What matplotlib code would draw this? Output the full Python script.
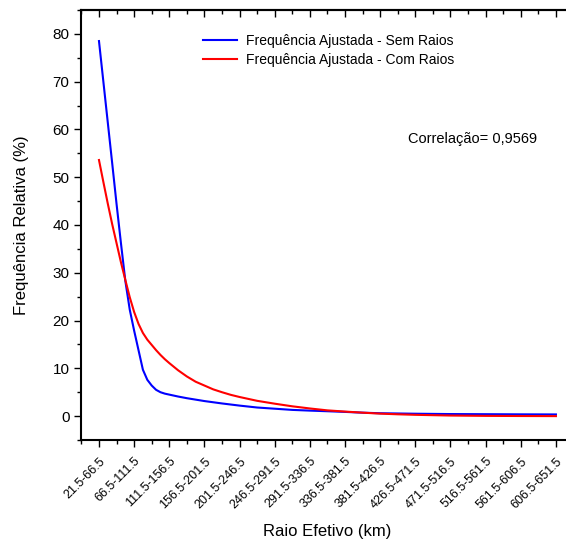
import matplotlib
matplotlib.use("Agg")
import matplotlib.pyplot as plt
from matplotlib.ticker import MultipleLocator

# Categorias do eixo X (classes de raio efetivo)
categorias = ["21.5-66.5", "66.5-111.5", "111.5-156.5", "156.5-201.5",
              "201.5-246.5", "246.5-291.5", "291.5-336.5", "336.5-381.5",
              "381.5-426.5", "426.5-471.5", "471.5-516.5", "516.5-561.5",
              "561.5-606.5", "606.5-651.5"]

# Posicoes (em indice de categoria) onde as curvas ajustadas foram lidas
pos_sem = [0, 0.125, 0.25, 0.375, 0.5, 0.625, 0.75, 0.875, 1.0, 1.125, 1.25,
           1.375, 1.5, 1.625, 1.75, 1.875, 2.0, 2.25, 2.5, 2.75, 3.0, 3.5,
           4.0, 4.5, 5.0, 5.5, 6.0, 6.5, 7.0, 7.5, 8.0, 9.0, 10.0, 11.0,
           12.0, 13.0]

# Frequencia ajustada - sem raios (%)
sem_raios = [78.5, 70.0, 61.5, 53.0, 44.4, 36.2, 28.3, 22.3, 17.9, 13.8, 9.7,
             7.6, 6.4, 5.5, 5.0, 4.7, 4.5, 4.1, 3.75, 3.45, 3.15, 2.65,
             2.2, 1.8, 1.55, 1.3, 1.15, 1.02, 0.88, 0.72, 0.6, 0.5, 0.43, 0.4,
             0.37, 0.35]

pos_com = [0, 0.125, 0.25, 0.375, 0.5, 0.625, 0.75, 0.875, 1.0, 1.125, 1.25,
           1.375, 1.5, 1.625, 1.75, 1.875, 2.0, 2.25, 2.5, 2.75, 3.0, 3.25,
           3.5, 3.75, 4.0, 4.5, 5.0, 5.5, 6.0, 6.5, 7.0, 7.5, 8.0, 8.5, 9.0,
           10.0, 11.0, 12.0, 13.0]

# Frequencia ajustada - com raios (%)
com_raios = [53.6, 49.0, 44.5, 40.2, 36.2, 32.2, 28.5, 24.9, 21.8, 19.3, 17.4,
             16.0, 14.9, 13.8, 12.8, 11.9, 11.1, 9.6, 8.3, 7.2, 6.4, 5.6,
             5.0, 4.45, 4.0, 3.2, 2.6, 2.05, 1.6, 1.2, 0.95, 0.72, 0.52, 0.38, 0.27,
             0.12, 0.05, 0.02, 0.0]

plt.rcParams['font.family'] = ['Liberation Sans', 'DejaVu Sans']

fig = plt.figure(figsize=(5.66, 5.40), dpi=100)
ax = fig.add_axes([81.4 / 566, 100 / 540, 492.1 / 566, 430 / 540])

ax.plot(pos_sem, sem_raios, color='#0000ff', linewidth=1.5,
        label="Frequência Ajustada - Sem Raios")
ax.plot(pos_com, com_raios, color='#ff0000', linewidth=1.5,
        label="Frequência Ajustada - Com Raios")

ax.set_xlim(-0.5, 13.5)
ax.set_ylim(-5, 85)

# Ticks do eixo X
ax.set_xticks(range(len(categorias)))
ax.set_xticklabels(categorias, rotation=45, ha='right', va='top',
                   rotation_mode='anchor', fontsize=9)
ax.xaxis.set_minor_locator(MultipleLocator(0.5))

# Ticks do eixo Y
ax.yaxis.set_major_locator(MultipleLocator(10))
ax.yaxis.set_minor_locator(MultipleLocator(5))

ax.tick_params(which='major', direction='out', length=5, width=1.0)
ax.tick_params(which='minor', direction='out', length=3, width=1.0)
ax.tick_params(axis='y', labelsize=11, pad=3.5)
ax.tick_params(axis='x', pad=6)

for lado in ['left', 'bottom', 'top', 'right']:
    ax.spines[lado].set_linewidth(1.5)

# Ticks para dentro em cima e na direita
topo = ax.secondary_xaxis('top')
topo.set_xticks(range(len(categorias)))
topo.xaxis.set_minor_locator(MultipleLocator(0.5))
topo.tick_params(which='major', direction='in', length=5, width=1.0, labeltop=False)
topo.tick_params(which='minor', direction='in', length=3, width=1.0)
topo.spines['top'].set_linewidth(1.5)

direita = ax.secondary_yaxis('right')
direita.yaxis.set_major_locator(MultipleLocator(10))
direita.yaxis.set_minor_locator(MultipleLocator(5))
direita.tick_params(which='major', direction='in', length=5, width=1.0, labelright=False)
direita.tick_params(which='minor', direction='in', length=3, width=1.0)

ax.set_xlabel("Raio Efetivo (km)", fontsize=12)
ax.xaxis.set_label_coords(0.5, -0.195)
ax.set_ylabel("Frequência Relativa (%)", fontsize=12)
ax.yaxis.set_label_coords(-0.107, 0.5)

ax.legend(loc='upper left', bbox_to_anchor=(0.248, 0.945), frameon=False,
          fontsize=10, handlelength=2.45, handletextpad=0.6,
          labelspacing=0.35, borderpad=0, borderaxespad=0)

ax.text(0.664, 0.70, "Correlação= 0,9569", transform=ax.transAxes,
        fontsize=10.5, va='center', ha='left')

fig.savefig("out.png", dpi=100)
